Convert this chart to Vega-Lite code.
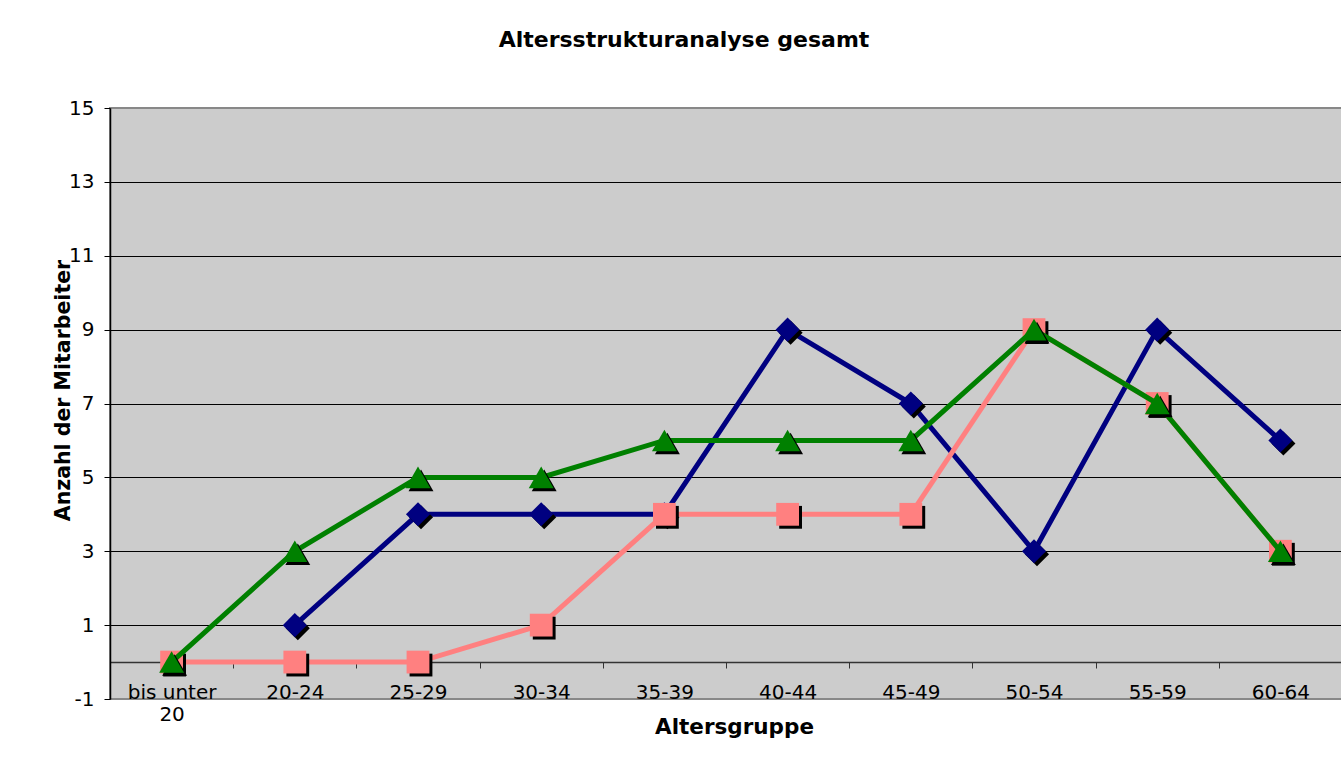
{
  "$schema": "https://vega.github.io/schema/vega-lite/v6.json",
  "width": 1232,
  "height": 591,
  "autosize": {"type": "none"},
  "padding": {"left": 110, "top": 108, "right": 0, "bottom": 84},
  "background": "white",
  "title": {
    "text": "Altersstrukturanalyse gesamt",
    "font": "DejaVu Sans",
    "fontSize": 22,
    "fontWeight": "bold",
    "color": "#000000",
    "anchor": "middle",
    "frame": "group",
    "dx": -42,
    "baseline": "alphabetic",
    "offset": 29
  },
  "data": {
    "values": [
      {"Altersgruppe": "20-24", "Reihe": "Reihe1", "Anzahl": 1},
      {"Altersgruppe": "25-29", "Reihe": "Reihe1", "Anzahl": 4},
      {"Altersgruppe": "30-34", "Reihe": "Reihe1", "Anzahl": 4},
      {"Altersgruppe": "35-39", "Reihe": "Reihe1", "Anzahl": 4},
      {"Altersgruppe": "40-44", "Reihe": "Reihe1", "Anzahl": 9},
      {"Altersgruppe": "45-49", "Reihe": "Reihe1", "Anzahl": 7},
      {"Altersgruppe": "50-54", "Reihe": "Reihe1", "Anzahl": 3},
      {"Altersgruppe": "55-59", "Reihe": "Reihe1", "Anzahl": 9},
      {"Altersgruppe": "60-64", "Reihe": "Reihe1", "Anzahl": 6},
      {"Altersgruppe": "bis unter 20", "Reihe": "Reihe2", "Anzahl": 0},
      {"Altersgruppe": "20-24", "Reihe": "Reihe2", "Anzahl": 0},
      {"Altersgruppe": "25-29", "Reihe": "Reihe2", "Anzahl": 0},
      {"Altersgruppe": "30-34", "Reihe": "Reihe2", "Anzahl": 1},
      {"Altersgruppe": "35-39", "Reihe": "Reihe2", "Anzahl": 4},
      {"Altersgruppe": "40-44", "Reihe": "Reihe2", "Anzahl": 4},
      {"Altersgruppe": "45-49", "Reihe": "Reihe2", "Anzahl": 4},
      {"Altersgruppe": "50-54", "Reihe": "Reihe2", "Anzahl": 9},
      {"Altersgruppe": "55-59", "Reihe": "Reihe2", "Anzahl": 7},
      {"Altersgruppe": "60-64", "Reihe": "Reihe2", "Anzahl": 3},
      {"Altersgruppe": "bis unter 20", "Reihe": "Reihe3", "Anzahl": 0},
      {"Altersgruppe": "20-24", "Reihe": "Reihe3", "Anzahl": 3},
      {"Altersgruppe": "25-29", "Reihe": "Reihe3", "Anzahl": 5},
      {"Altersgruppe": "30-34", "Reihe": "Reihe3", "Anzahl": 5},
      {"Altersgruppe": "35-39", "Reihe": "Reihe3", "Anzahl": 6},
      {"Altersgruppe": "40-44", "Reihe": "Reihe3", "Anzahl": 6},
      {"Altersgruppe": "45-49", "Reihe": "Reihe3", "Anzahl": 6},
      {"Altersgruppe": "50-54", "Reihe": "Reihe3", "Anzahl": 9},
      {"Altersgruppe": "55-59", "Reihe": "Reihe3", "Anzahl": 7},
      {"Altersgruppe": "60-64", "Reihe": "Reihe3", "Anzahl": 3}
    ]
  },
  "encoding": {
    "x": {
      "field": "Altersgruppe",
      "type": "nominal",
      "bandPosition": 0.5,
      "scale": {
        "type": "band",
        "domain": ["bis unter 20", "20-24", "25-29", "30-34", "35-39", "40-44", "45-49", "50-54", "55-59", "60-64"],
        "paddingInner": 0,
        "paddingOuter": 0
      },
      "axis": {
        "title": "Altersgruppe",
        "titleFontSize": 21.5,
        "offset": -37,
        "tickBand": "extent",
        "labelAngle": 0,
        "tickSize": 6,
        "tickColor": "#333333",
        "domainColor": "#333333",
        "domainWidth": 1.5,
        "grid": false,
        "labelPadding": 14,
        "labelLineHeight": 22,
        "labelExpr": "datum.label == 'bis unter 20' ? ['bis unter', '20'] : datum.label",
        "titleX": 624,
        "titleY": 65,
        "titleAlign": "center",
        "titleBaseline": "middle"
      }
    },
    "y": {
      "field": "Anzahl",
      "type": "quantitative",
      "scale": {"domain": [-1, 15], "nice": false, "zero": false},
      "axis": {
        "title": "Anzahl der Mitarbeiter",
        "titleFontSize": 20.5,
        "values": [-1, 1, 3, 5, 7, 9, 11, 13, 15],
        "labelExpr": "datum.value < 0 ? '-' + abs(datum.value) : datum.label",
        "grid": true,
        "gridColor": {"condition": {"test": "datum.value == 15 || datum.value == -1", "value": "#888888"}, "value": "#000000"},
        "gridWidth": 1,
        "tickSize": 6,
        "labelPadding": 10,
        "domainWidth": 1.5,
        "titleAngle": -90,
        "titleX": -47,
        "titleY": 282,
        "titleAlign": "center",
        "titleBaseline": "middle"
      }
    }
  },
  "layer": [
    {
      "transform": [{"filter": "datum.Reihe == 'Reihe1'"}],
      "layer": [
        {"mark": {"type": "line", "strokeWidth": 5, "color": "#000080"}},
        {"mark": {"type": "point", "shape": "diamond", "filled": true, "size": 580, "color": "#000000", "opacity": 1, "xOffset": 3, "yOffset": 3}},
        {"mark": {"type": "point", "shape": "diamond", "filled": true, "size": 580, "color": "#000080", "opacity": 1}}
      ]
    },
    {
      "transform": [{"filter": "datum.Reihe == 'Reihe2'"}],
      "layer": [
        {"mark": {"type": "line", "strokeWidth": 5, "color": "#FF8080"}},
        {"mark": {"type": "point", "shape": "square", "filled": true, "size": 520, "color": "#000000", "opacity": 1, "xOffset": 3, "yOffset": 3}},
        {"mark": {"type": "point", "shape": "square", "filled": true, "size": 520, "color": "#FF8080", "opacity": 1}}
      ]
    },
    {
      "transform": [{"filter": "datum.Reihe == 'Reihe3'"}],
      "layer": [
        {"mark": {"type": "line", "strokeWidth": 5, "color": "#008000"}},
        {"mark": {"type": "point", "shape": "triangle-up", "filled": true, "size": 620, "color": "#000000", "opacity": 1, "xOffset": 3, "yOffset": 3}},
        {"mark": {"type": "point", "shape": "triangle-up", "filled": true, "size": 620, "color": "#008000", "opacity": 1}}
      ]
    }
  ],
  "config": {
    "font": "DejaVu Sans",
    "view": {"fill": "#CCCCCC", "stroke": "#888888", "strokeWidth": 2},
    "axis": {
      "labelFont": "DejaVu Sans",
      "labelFontSize": 20,
      "labelColor": "#000000",
      "titleFont": "DejaVu Sans",
      "titleFontSize": 20,
      "titleFontWeight": "bold",
      "titleColor": "#000000",
      "domainColor": "#000000",
      "tickColor": "#000000",
      "gridOpacity": 1
    }
  }
}
